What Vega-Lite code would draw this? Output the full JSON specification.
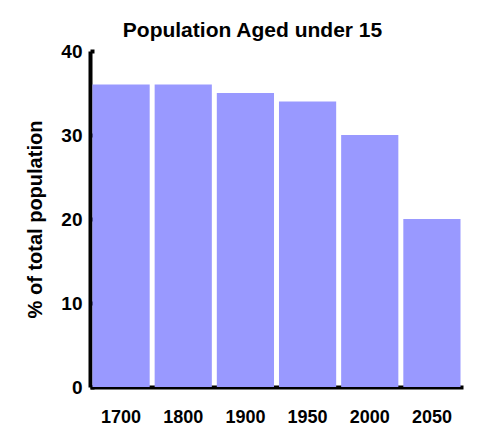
{
  "$schema": "https://vega.github.io/schema/vega-lite/v6.json",
  "autosize": {"type": "none"},
  "width": 373,
  "height": 336,
  "padding": {"left": 90, "top": 51, "right": 23, "bottom": 55},
  "background": "white",
  "title": {"text": "Population Aged under 15", "font": "Liberation Sans", "fontSize": 21, "fontWeight": "bold", "color": "black", "dx": -24, "offset": 1},
  "data": {"values": [
    {"year": "1700", "pct": 36},
    {"year": "1800", "pct": 36},
    {"year": "1900", "pct": 35},
    {"year": "1950", "pct": 34},
    {"year": "2000", "pct": 30},
    {"year": "2050", "pct": 20}
  ]},
  "mark": {"type": "bar", "color": "#9999FF"},
  "encoding": {
    "x": {"field": "year", "type": "nominal", "sort": null,
      "scale": {"paddingInner": 0.08, "paddingOuter": 0.04},
      "axis": {"title": null, "labelAngle": 0, "ticks": false, "labelPadding": 21, "domainWidth": 4, "domainColor": "black", "labelFont": "Liberation Sans", "labelFontSize": 18, "labelFontWeight": "bold", "labelColor": "black"}},
    "y": {"field": "pct", "type": "quantitative",
      "scale": {"domain": [0, 40], "nice": false},
      "axis": {"title": "% of total population", "values": [0, 10, 20, 30, 40], "grid": false, "tickSize": -4, "tickWidth": 4, "tickColor": "black", "domainWidth": 4, "domainColor": "black", "labelPadding": 12, "labelFont": "Liberation Sans", "labelFontSize": 19, "labelFontWeight": "bold", "labelColor": "black", "titleFont": "Liberation Sans", "titleFontSize": 20, "titleFontWeight": "bold", "titleColor": "black", "titlePadding": 15}}
  },
  "config": {"view": {"stroke": null}}
}
